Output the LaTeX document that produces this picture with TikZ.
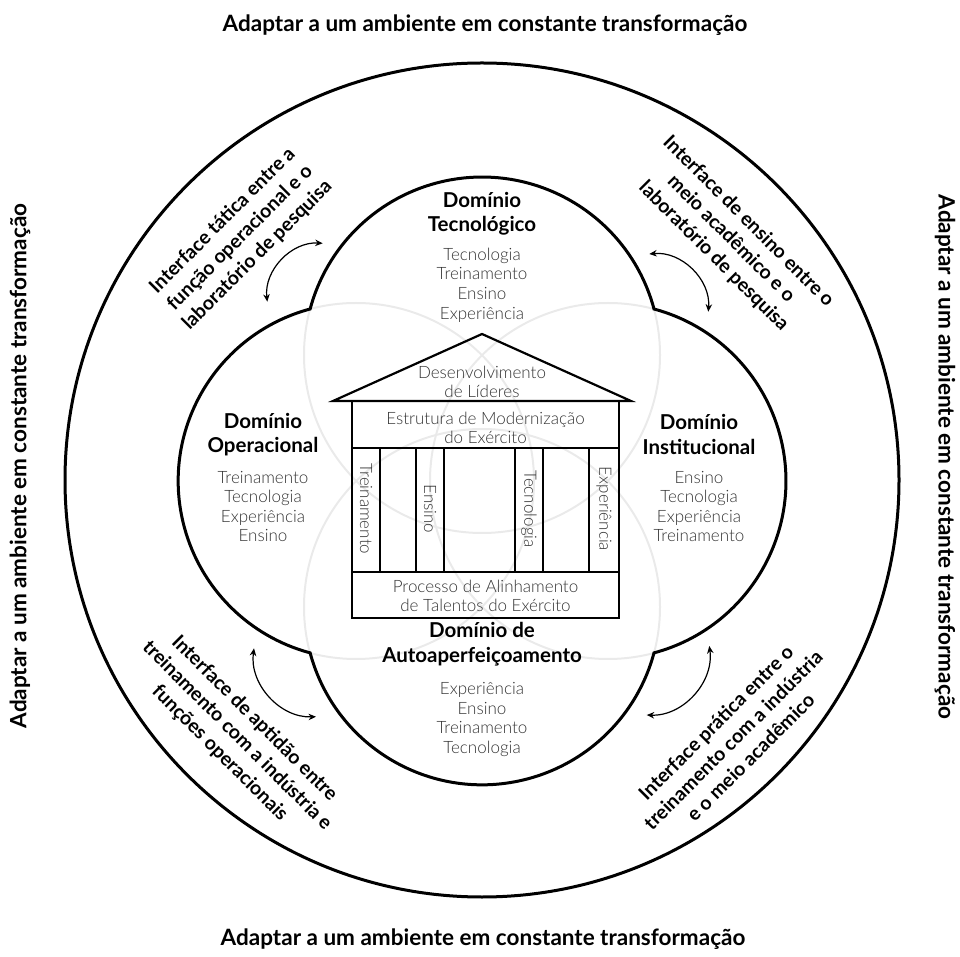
\documentclass[tikz,border=0pt]{standalone}
\usepackage{fontspec}
\setmainfont{Lato}
\newfontfamily\lightf{Lato Light}
\usetikzlibrary{arrows.meta}
\definecolor{txtgray}{HTML}{333333}
\definecolor{venn}{HTML}{EAEAEA}
\begin{document}
\begin{tikzpicture}[x=1pt,y=1pt,
  outline/.style={line width=3pt},
  venncircle/.style={draw=venn, line width=2pt},
  houseline/.style={draw=black, line width=2.2pt},
  headfont/.style={font=\bfseries\fontsize{20.5}{24.5}\selectfont, align=center, inner sep=0pt},
  listfont/.style={font=\lightf\fontsize{17}{19.6}\selectfont, text=txtgray, align=center, inner sep=0pt},
  ifacefont/.style={font=\bfseries\fontsize{19.5}{24.5}\selectfont, align=center, inner sep=0pt},
  titlefont/.style={font=\bfseries\fontsize{22.5}{26}\selectfont, inner sep=0pt},
  dblarrow/.style={{Stealth[length=7.5pt,width=6.5pt]}-{Stealth[length=7.5pt,width=6.5pt]}, line width=1.2pt},
]
\useasboundingbox (0,0) rectangle (960,956);
\coordinate (C) at (482,475);
% outer circle
\draw[outline] (482,476) circle[radius=417];
% faint venn circles
\foreach \a in {0,90,180,270} \draw[venncircle] (C) ++(\a:126) circle[radius=178];
% four-lobe outline
\draw[outline] (C) ++(172,172)
  arc[start angle=15,end angle=165,radius=178]
  arc[start angle=105,end angle=255,radius=178]
  arc[start angle=195,end angle=345,radius=178]
  arc[start angle=285,end angle=435,radius=178] -- cycle;
% house
\draw[houseline] (333,555) -- (482,622) -- (631,555) -- cycle;
\draw[houseline] (352,338) rectangle (619,555);
\draw[houseline] (352,508) -- (619,508);
\draw[houseline] (352,384) -- (619,384);
\foreach \x in {380,416,444,515,543,589} \draw[houseline] (\x,384) -- (\x,508);
\node[listfont] (roof) at (482,574) {Desenvolvimento\\de Líderes};
\node[listfont] (estr) at (485.5,528) {Estrutura de Modernização\\do Exército};
\node[listfont] (proc) at (485.5,360) {Processo de Alinhamento\\de Talentos do Exército};
\node[listfont, rotate=-90] (c1) at (366,447) {Treinamento};
\node[listfont, rotate=-90] (c2) at (430,447) {Ensino};
\node[listfont, rotate=-90] (c3) at (529,447) {Tecnologia};
\node[listfont, rotate=-90] (c4) at (604,447) {Experiência};
% domains
\node[headfont] (dtec) at (482,742) {Domínio\\Tecnológico};
\node[listfont] (ltec) at (482,671) {Tecnologia\\Treinamento\\Ensino\\Experiência};
\node[headfont] (dope) at (263,521.5) {Domínio\\Operacional};
\node[listfont] (lope) at (263,449.5) {Treinamento\\Tecnologia\\Experiência\\Ensino};
\node[headfont] (dins) at (699,521.5) {Domínio\\Institucional};
\node[listfont] (lins) at (699,449.5) {Ensino\\Tecnologia\\Experiência\\Treinamento};
\node[headfont] (daut) at (482,312) {Domínio de\\Autoaperfeiçoamento};
\node[listfont] (laut) at (482,236.5) {Experiência\\Ensino\\Treinamento\\Tecnologia};
% titles
\node[titlefont] (t1) at (485,931) {Adaptar a um ambiente em constante transformação};
\node[titlefont] (t2) at (483,17) {Adaptar a um ambiente em constante transformação};
\node[titlefont, rotate=90] (t3) at (20,490) {Adaptar a um ambiente em constante transformação};
\node[titlefont, rotate=-90] (t4) at (945,499) {Adaptar a um ambiente em constante transformação};
% interfaces
\node[ifacefont, rotate=45] (i1) at (240,718) {Interface tática entre a\\função operacional e o\\laboratório de pesquisa};
\node[ifacefont, rotate=-45] (i2) at (731,717) {Interface de ensino entre o\\meio acadêmico e o\\laboratório de pesquisa};
\node[ifacefont, rotate=-45] (i3) at (237,220) {Interface de aptidão entre\\treinamento com a indústria e\\funções operacionais};
\node[ifacefont, rotate=45] (i4) at (733,216) {Interface prática entre o\\treinamento com a indústria\\e o meio acadêmico};
% arrows
\coordinate (a1s) at (267.3,654.3); \coordinate (a1e) at (322.7,712.7);
\coordinate (a2s) at (649.3,702);   \coordinate (a2e) at (708.3,644.3);
\coordinate (a3s) at (316,239.3);   \coordinate (a3e) at (254,307.7);
\coordinate (a4s) at (709.3,310);   \coordinate (a4e) at (646.7,241);
\draw[dblarrow] (a1s) to[bend left=50] (a1e);
\draw[dblarrow] (a2s) to[bend left=50] (a2e);
\draw[dblarrow] (a3s) to[bend left=50] (a3e);
\draw[dblarrow] (a4s) to[bend left=50] (a4e);
\end{tikzpicture}
\end{document}
